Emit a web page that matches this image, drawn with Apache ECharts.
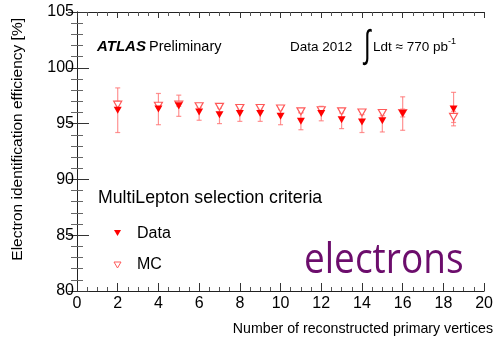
<!DOCTYPE html>
<html>
<head>
<meta charset="utf-8">
<script src="https://cdn.jsdelivr.net/npm/echarts@6/dist/echarts.min.js"></script>
<style>
  html, body { margin: 0; padding: 0; background: #fff; }
  #chart { width: 496px; height: 341px; }
</style>
</head>
<body>
<div id="chart"></div>
<script>
// Number of reconstructed primary vertices (bin centres)
const vertices = [2, 4, 5, 6, 7, 8, 9, 10, 11, 12, 13, 14, 15, 16, 18.5];
// Electron identification efficiency [%] measured in data, with uncertainty
const dataEff = [96.2, 96.3, 96.6, 96.05, 95.8, 95.9, 95.9, 95.65, 95.2, 95.9, 95.35, 95.15, 95.25, 95.9, 96.3];
const dataErr = [2.0, 1.4, 0.95, 0.75, 0.8, 0.7, 0.7, 0.75, 0.75, 0.65, 0.8, 0.95, 1.0, 1.5, 1.5];
// Same efficiency in simulation
const mcEff = [96.7, 96.6, 96.7, 96.55, 96.5, 96.4, 96.4, 96.35, 96.1, 96.2, 96.1, 96.0, 95.95, 95.95, 95.6];
const mcErr = [0.3, 0.2, 0.15, 0.1, 0.1, 0.1, 0.1, 0.1, 0.1, 0.15, 0.15, 0.2, 0.25, 0.35, 0.5];
// Axis ticks
const xTicks = [0, 2, 4, 6, 8, 10, 12, 14, 16, 18, 20];
const yTicks = [80, 85, 90, 95, 100, 105];

const FONT = 'Liberation Sans';
const RED = '#ff0000';
const PINK = 'rgba(255,110,110,0.75)';

const chart = echarts.init(document.getElementById('chart'), null, { renderer: 'canvas' });

function errorBars(vals, errs) {
  return vertices.map((x, i) => [x, vals[i] - errs[i], vals[i] + errs[i]]);
}

function renderErr(params, api) {
  const x = api.value(0);
  const lo = api.coord([x, api.value(1)]);
  const hi = api.coord([x, api.value(2)]);
  const cap = 2.5;
  const style = { stroke: PINK, lineWidth: 1.2 };
  return {
    type: 'group',
    children: [
      { type: 'line', shape: { x1: lo[0], y1: lo[1], x2: hi[0], y2: hi[1] }, style },
      { type: 'line', shape: { x1: lo[0] - cap, y1: lo[1], x2: lo[0] + cap, y2: lo[1] }, style },
      { type: 'line', shape: { x1: hi[0] - cap, y1: hi[1], x2: hi[0] + cap, y2: hi[1] }, style }
    ]
  };
}

const axisLine = { show: true, lineStyle: { color: '#222', width: 1 } };

function xAxisDef(pos, labels) {
  return {
    type: 'value', position: pos, min: xTicks[0], max: xTicks[xTicks.length - 1], interval: 2,
    axisLine,
    axisTick: { show: true, inside: true, length: pos === 'bottom' ? 8 : 6, lineStyle: { color: '#333' } },
    minorTick: { show: true, splitNumber: 4, length: 4, lineStyle: { color: '#555' } },
    axisLabel: { show: labels, color: '#000', fontFamily: FONT, fontSize: 16, margin: 5,
                 customValues: xTicks },
    splitLine: { show: false }
  };
}

function yAxisDef(pos, labels) {
  return {
    type: 'value', position: pos, min: yTicks[0], max: yTicks[yTicks.length - 1], interval: 5,
    axisLine,
    axisTick: { show: true, inside: true, length: pos === 'left' ? 12 : 9, lineStyle: { color: '#333' } },
    minorTick: { show: true, splitNumber: 5, length: 6, lineStyle: { color: '#666' } },
    axisLabel: { show: labels, color: '#000', fontFamily: FONT, fontSize: 16, margin: 3 },
    splitLine: { show: false }
  };
}

const option = {
  animation: false,
  backgroundColor: '#fff',
  grid: { left: 77, right: 6, top: 12, bottom: 50 },
  xAxis: [xAxisDef('bottom', true), xAxisDef('top', false)],
  yAxis: [yAxisDef('left', true), yAxisDef('right', false)],
  series: [
    { type: 'custom', name: 'MC err', renderItem: renderErr, encode: { x: 0, y: [1, 2] },
      data: errorBars(mcEff, mcErr), z: 2 },
    { type: 'custom', name: 'Data err', renderItem: renderErr, encode: { x: 0, y: [1, 2] },
      data: errorBars(dataEff, dataErr), z: 2 },
    { type: 'scatter', name: 'MC', symbol: 'triangle', symbolRotate: 180, symbolSize: [8, 7],
      itemStyle: { color: '#fff', opacity: 1, borderColor: '#ff5a5a', borderWidth: 1.2 },
      data: vertices.map((x, i) => [x, mcEff[i]]), z: 3 },
    { type: 'scatter', name: 'Data', symbol: 'triangle', symbolRotate: 180, symbolSize: [8, 7],
      itemStyle: { color: RED, opacity: 1 },
      data: vertices.map((x, i) => [x, dataEff[i]]), z: 4 }
  ],
  graphic: [
    { type: 'text', x: 18, y: 18, rotation: Math.PI / 2,
      style: { text: 'Electron identification efficiency [%]', font: '15.5px "Liberation Sans"',
               fill: '#000', align: 'right', verticalAlign: 'middle' } },
    { type: 'text', x: 493, y: 329,
      style: { text: 'Number of reconstructed primary vertices', font: '14.2px "Liberation Sans"',
               fill: '#000', align: 'right', verticalAlign: 'middle' } },
    { type: 'text', x: 97, y: 47,
      style: { text: 'ATLAS', font: 'italic bold 15px "Liberation Sans"', fill: '#000',
               verticalAlign: 'middle' } },
    { type: 'text', x: 149, y: 47,
      style: { text: 'Preliminary', font: '14.5px "Liberation Sans"', fill: '#000',
               verticalAlign: 'middle' } },
    { type: 'text', x: 290, y: 47,
      style: { text: 'Data 2012', font: '13.5px "Liberation Sans"', fill: '#000',
               verticalAlign: 'middle' } },
    { type: 'text', x: 364, y: 46, scaleY: 1.6,
      style: { text: '∫', font: '24px "Liberation Sans"', fill: '#000', verticalAlign: 'middle' } },
    { type: 'text', x: 373, y: 47,
      style: { text: '{m|Ldt ≈ 770 pb}{s|-1}', fill: '#000', verticalAlign: 'middle',
               rich: {
                 m: { font: '13.5px "Liberation Sans"', fill: '#000' },
                 s: { font: '9px "Liberation Sans"', fill: '#000', verticalAlign: 'top', padding: [0, 0, 10, 0] }
               } } },
    { type: 'text', x: 98, y: 198,
      style: { text: 'MultiLepton selection criteria', font: '17.7px "Liberation Sans"', fill: '#000',
               verticalAlign: 'middle' } },
    { type: 'text', x: 137, y: 234,
      style: { text: 'Data', font: '16px "Liberation Sans"', fill: '#000', verticalAlign: 'middle' } },
    { type: 'text', x: 137, y: 265,
      style: { text: 'MC', font: '16px "Liberation Sans"', fill: '#000', verticalAlign: 'middle' } },
    { type: 'polygon', shape: { points: [[114, 230], [121, 230], [117.5, 236]] },
      style: { fill: RED } },
    { type: 'polygon', shape: { points: [[114, 262], [121, 262], [117.5, 268]] },
      style: { fill: '#fff', stroke: '#ff5a5a', lineWidth: 1 } },
    { type: 'text', x: 304, y: 261, scaleY: 1.14,
      style: { text: 'electrons', font: '37px "Open Sans"', fill: '#6c0d6c', verticalAlign: 'middle' } }
  ]
};

chart.setOption(option);
</script>
</body>
</html>
